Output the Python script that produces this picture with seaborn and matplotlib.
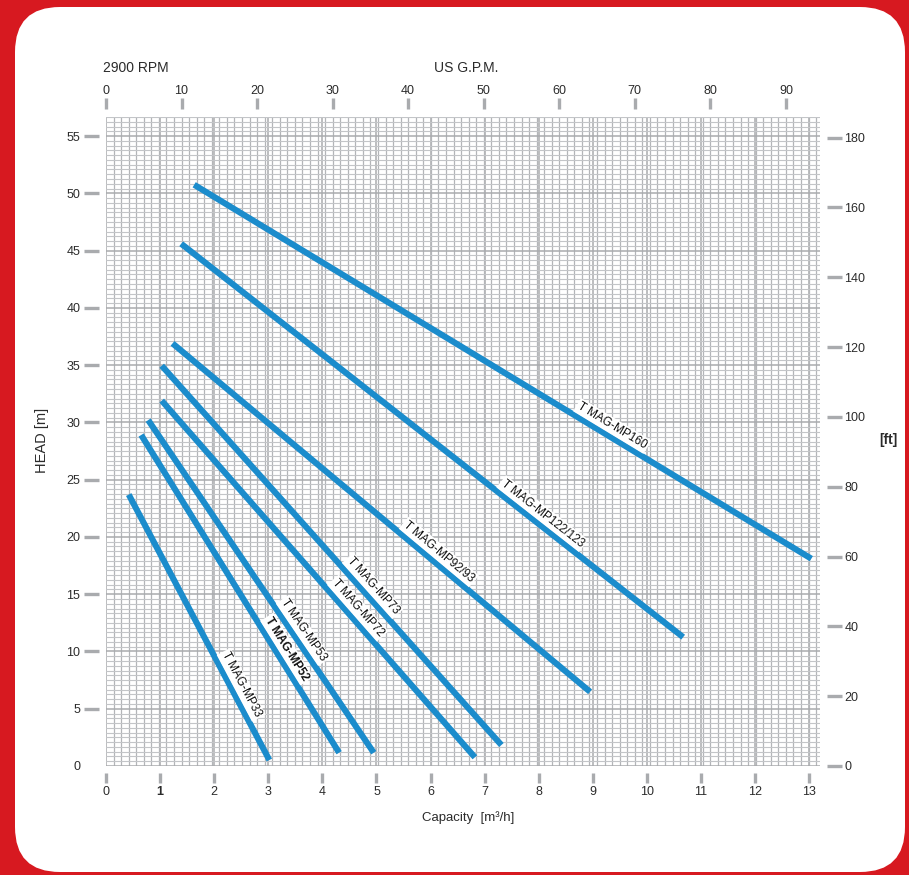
import numpy as np
import pandas as pd
import matplotlib
matplotlib.use("Agg")
import matplotlib.pyplot as plt
from matplotlib.patches import FancyBboxPatch
import seaborn as sns

# pump curves (start and end point of each straight line)
MODELS = ["T MAG-MP33", "T MAG-MP52", "T MAG-MP53", "T MAG-MP72",
          "T MAG-MP73", "T MAG-MP92/93", "T MAG-MP122/123", "T MAG-MP160"]
Q_START = [0.42, 0.65, 0.78, 1.03, 1.03, 1.23, 1.39, 1.63]
H_START = [23.7, 28.9, 30.2, 31.9, 34.95, 36.9, 45.6, 50.75]
Q_END = [3.02, 4.31, 4.95, 6.82, 7.31, 8.95, 10.67, 13.04]
H_END = [0.52, 1.16, 1.16, 0.76, 1.83, 6.48, 11.25, 18.1]
# where along each line the label sits (capacity value)
LABEL_Q = [2.33, 3.18, 3.49, 4.51, 4.79, 6.03, 7.95, 9.26]

Q_TICKS = list(range(0, 14))
H_TICKS = list(range(0, 56, 5))
GPM_TICKS = list(range(0, 91, 10))
FT_TICKS = list(range(0, 181, 20))
GPM_PER_UNIT = 7.16   # top scale as printed on the sheet
FT_PER_M = 3.2808

RED = "#d71920"
BLUE = "#1b8ccc"
TICK_GREY = "#a9abae"
TEXT = "#2b2b2b"

sns.set_style("white")
plt.rcParams["font.family"] = ["Liberation Sans", "DejaVu Sans"]

W, H = 909, 875
fig = plt.figure(figsize=(W / 100, H / 100), dpi=100)
fig.patch.set_facecolor(RED)
card = FancyBboxPatch((15 / 100, 3 / 100), 890 / 100, 865 / 100,
                      boxstyle="round,pad=0,rounding_size=0.45",
                      transform=fig.dpi_scale_trans, facecolor="white",
                      edgecolor="none", zorder=-5)
fig.patches.append(card)

ax = fig.add_axes([106 / W, 1 - 766 / H, (820 - 106) / W, (766 - 117) / H])
ax.set_facecolor("white")
ax.set_xlim(0, 13.2)
ax.set_ylim(0, 56.6)

# dense chart-paper grid
ax.set_xticks(np.arange(0, 95) / GPM_PER_UNIT, minor=True)
ax.set_yticks(np.arange(0, 137) * 5 / 12, minor=True)
ax.grid(which="minor", axis="x", color="#b3b5b8", linewidth=0.9)
ax.grid(which="minor", axis="y", color="#c3c5c8", linewidth=0.8)
ax.grid(which="major", axis="both", color="#a9abae", linewidth=1.1)
ax.tick_params(which="minor", length=0)
ax.set_axisbelow(True)

df = pd.DataFrame({
    "model": MODELS * 2,
    "q": Q_START + Q_END,
    "h": H_START + H_END,
})
sns.lineplot(data=df, x="q", y="h", hue="model", hue_order=MODELS,
             palette=[BLUE] * len(MODELS), estimator=None, sort=False,
             legend=False, linewidth=4.4, solid_capstyle="butt", ax=ax,
             zorder=3)

for side in ["top", "right", "left", "bottom"]:
    ax.spines[side].set_visible(False)
ax.spines["left"].set_position(("outward", 5))
ax.spines["bottom"].set_position(("outward", 5))

ax.set_xticks(Q_TICKS)
ax.set_yticks(H_TICKS)
ax.tick_params(axis="y", which="major", left=True, direction="out", length=10.5,
               width=2.4, color=TICK_GREY, pad=3, labelsize=9, labelcolor=TEXT)
ax.tick_params(axis="x", which="major", bottom=True, direction="out", length=7.5,
               width=2.4, color=TICK_GREY, pad=2, labelsize=9, labelcolor=TEXT)
ax.yaxis.get_major_ticks()[0].tick1line.set_visible(False)
ax.set_xlabel("")
ax.set_ylabel("")
fig.canvas.draw()
ax.get_xticklabels()[1].set_fontweight("bold")

top = ax.secondary_xaxis(1 + 8 / 649, functions=(lambda q: q * GPM_PER_UNIT,
                                                 lambda g: g / GPM_PER_UNIT))
top.set_xticks(GPM_TICKS)
top.tick_params(top=True, direction="out", length=8, width=2.4, color=TICK_GREY,
                pad=0.5, labelsize=9, labelcolor=TEXT)
top.spines["top"].set_visible(False)

right = ax.secondary_yaxis(1 + 7 / 714, functions=(lambda m: m * FT_PER_M,
                                                   lambda f: f / FT_PER_M))
right.set_yticks(FT_TICKS)
right.tick_params(right=True, direction="out", length=10.5, width=2.4,
                  color=TICK_GREY, pad=2, labelsize=9, labelcolor=TEXT)
right.spines["right"].set_visible(False)

# labels along the lines
for name, q0, h0, q1, h1, lq in zip(MODELS, Q_START, H_START, Q_END, H_END, LABEL_Q):
    lh = h0 + (h1 - h0) * (lq - q0) / (q1 - q0)
    p0 = ax.transData.transform((q0, h0))
    p1 = ax.transData.transform((q1, h1))
    ang = np.degrees(np.arctan2(p1[1] - p0[1], p1[0] - p0[0]))
    a = np.radians(ang)
    off = 7.5
    ax.annotate(name, xy=(lq, lh), xytext=(-np.sin(a) * off, np.cos(a) * off),
                textcoords="offset points", rotation=ang, rotation_mode="anchor",
                ha="center", va="center", fontsize=8.5, color="#111111",
                fontweight="bold" if name.endswith("MP52") else "normal",
                bbox=dict(boxstyle="square,pad=0.15", facecolor="white",
                          edgecolor="none"), zorder=4)

fig.text(103 / W, 1 - 68 / H, "2900 RPM", fontsize=10, color=TEXT,
         ha="left", va="center")
fig.text(466 / W, 1 - 68 / H, "US G.P.M.", fontsize=10, color=TEXT,
         ha="center", va="center")
fig.text(42 / W, 1 - 440 / H, "HEAD [m]", fontsize=10.5, color=TEXT,
         ha="center", va="center", rotation=90,
         family=["Liberation Sans Narrow", "Liberation Sans", "DejaVu Sans"])
fig.text(888 / W, 1 - 440 / H, "[ft]", fontsize=10, color=TEXT,
         ha="center", va="center", fontweight="bold")
fig.text(468 / W, 1 - 818 / H, "Capacity  [m\u00b3/h]", fontsize=9.5, color=TEXT,
         ha="center", va="center",
         family=["Liberation Sans Narrow", "Liberation Sans", "DejaVu Sans"])

fig.savefig("out.png", dpi=100, facecolor=fig.get_facecolor())
